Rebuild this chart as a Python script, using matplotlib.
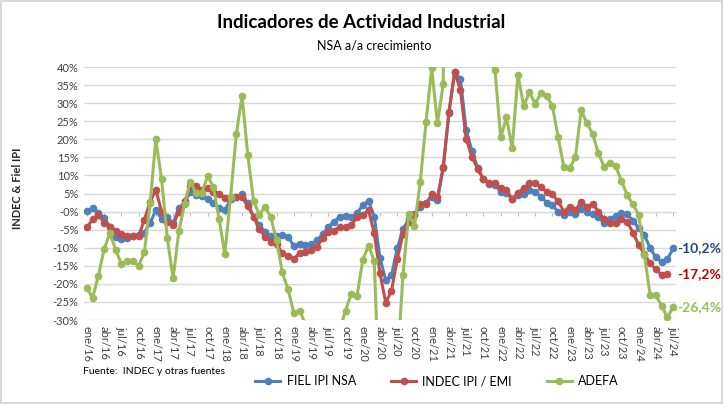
import numpy as np
import matplotlib
matplotlib.use("Agg")
import matplotlib.pyplot as plt
from matplotlib.ticker import FuncFormatter

plt.rcParams['font.family'] = ['Lato', 'DejaVu Sans']

# variacion interanual (%), ene/16 .. jul/24
fiel_ipi = [
    0.2, 0.9, -0.3, -1.7, -4.2, -6.9, -7.7, -7.2, -6.7, -6.5, -5.8, -3.2,
    0.4, -2.1, -1.6, -3.2, 0.9, 2.5, 5.5, 4.6, 4.3, 3.4, 2.3, 1.1,
    0.3, 3.4, 3.9, 4.8, 2.3, -1.4, -3.7, -5.6, -6.8, -6.7, -6.5, -7.0,
    -9.5, -8.9, -9.3, -8.9, -8.0, -6.3, -4.2, -2.8, -1.4, -1.1, -1.6, -0.5,
    1.8, 2.9, -1.4, -12.8, -19.0, -17.6, -10.2, -4.8, -2.1, -0.7, 1.3, 2.4,
    4.1, 3.2, 12.0, 27.4, 38.7, 36.6, 22.5, 16.8, 12.0, 9.0, 7.6, 7.3,
    5.5, 5.2, 3.4, 4.6, 5.0, 6.0, 5.5, 4.1, 2.5, 1.7, 0.0, -0.9,
    0.0, -0.8, 0.7, 0.0, -0.7, -1.6, -3.2, -2.1, -1.2, -0.3, -0.7, -2.5,
    -4.6, -6.5, -10.1, -12.7, -13.9, -13.2, -10.2,
]
indec_ipi = [
    -4.4, -2.1, -0.9, -3.1, -4.4, -5.3, -6.2, -6.7, -6.8, -6.8, -2.3, 2.7,
    6.0, 0.0, -2.8, -3.7, 0.0, 2.8, 7.0, 7.1, 6.0, 6.4, 5.5, 4.9,
    3.7, 3.9, 4.1, 4.1, 1.5, -1.4, -4.9, -6.9, -8.3, -9.0, -11.5, -12.3,
    -13.2, -11.4, -11.1, -10.6, -9.9, -7.4, -5.6, -5.3, -4.2, -4.4, -3.7, -1.6,
    -1.0, 0.4, -6.0, -17.1, -25.2, -21.9, -13.2, -6.2, -2.8, -0.9, 2.1, 2.1,
    4.8, 3.9, 12.4, 27.6, 38.7, 33.5, 20.0, 15.2, 11.7, 9.0, 8.0, 7.8,
    6.4, 6.0, 3.4, 5.2, 6.4, 7.8, 8.0, 6.7, 5.5, 4.8, 2.8, 0.0,
    1.4, 0.4, 2.7, 1.4, 2.1, 0.0, -2.1, -3.1, -3.2, -2.1, -2.8, -5.8,
    -9.2, -11.7, -14.3, -16.0, -17.5, -17.2,
]
adefa = [
    -21.2, -23.8, -17.8, -10.4, -6.0, -10.5, -14.5, -13.7, -13.7, -15.0, -11.3, 2.3,
    20.0, 8.9, -7.4, -18.5, -5.5, 2.1, 8.3, 5.1, 5.2, 9.8, 6.9, -2.0,
    -11.7, 3.9, 21.4, 32.0, 15.6, 3.0, -0.9, 1.4, -1.6, -7.9, -16.8, -21.5,
    -28.0, -27.4, -31.0, -38.0, -42.0, -36.0, -35.0, -38.0, -32.6, -27.4, -22.8, -23.4,
    -13.4, -9.4, -13.7, -57.0, -100.0, -84.0, -42.5, -17.5, -0.7, -3.9, 8.1, 24.7,
    39.6, 24.4, 35.3, 300.0, 900.0, 150.0, 80.0, 65.0, 58.0, 52.0, 42.0, 39.2,
    20.5, 26.1, 17.5, 37.9, 29.2, 33.0, 29.9, 32.7, 32.0, 29.2, 20.5, 12.2,
    12.1, 15.0, 28.1, 24.4, 21.5, 16.1, 12.4, 13.5, 12.6, 8.5, 4.6, 2.0,
    -0.9, -12.0, -23.1, -23.2, -26.1, -29.3, -26.4,
]

tick_labels = [
    "ene/16", "abr/16", "jul/16", "oct/16", "ene/17", "abr/17", "jul/17", "oct/17",
    "ene/18", "abr/18", "jul/18", "oct/18", "ene/19", "abr/19", "jul/19", "oct/19",
    "ene/20", "abr/20", "jul/20", "oct/20", "ene/21", "abr/21", "jul/21", "oct/21",
    "ene/22", "abr/22", "jul/22", "oct/22", "ene/23", "abr/23", "jul/23", "oct/23",
    "ene/24", "abr/24", "jul/24",
]

series = [
    ("FIEL IPI NSA", fiel_ipi, "#4f81bd", "-10,2%", "#1f497d"),
    ("INDEC IPI / EMI", indec_ipi, "#c0504d", "-17,2%", "#c00000"),
    ("ADEFA", adefa, "#9bbb59", "-26,4%", "#9bbb59"),
]

fig = plt.figure(figsize=(7.23, 4.04), dpi=100)
fig.patch.set_edgecolor("#d9d9d9")
fig.patch.set_linewidth(1.5)
ax = fig.add_axes([84 / 723, 1 - 320 / 404, 592 / 723, 253 / 404])

for nombre, valores, color, etiqueta, color_etq in series:
    x = np.arange(len(valores))
    y = np.array(valores) / 100
    ax.plot(x, y, color=color, lw=2.2, marker="o", ms=4.5, label=nombre)
    ax.text(102.75, y[-1], etiqueta, color=color_etq, fontsize=10, fontweight="bold",
            ha="left", va="center", clip_on=False)

ax.set_xlim(-0.5, 102.5)
ax.set_ylim(-0.30, 0.40)
ax.set_yticks(np.arange(-0.30, 0.401, 0.05))
ax.yaxis.set_major_formatter(FuncFormatter(lambda v, p: f"{v * 100:.0f}%"))
ax.grid(axis="y", color="#d9d9d9", lw=1)
ax.set_axisbelow(True)
for s in ax.spines.values():
    s.set_visible(False)
ax.tick_params(axis="y", length=0, labelsize=8, labelcolor="#404040", pad=4)

ax.set_xticks(np.arange(0, 103, 3))
ax.set_xticklabels(tick_labels, rotation=-90, fontsize=8, color="#404040")
ax.tick_params(axis="x", length=0, pad=4)

# eje horizontal en 0 con marcas cada trimestre
eje0 = ax.secondary_xaxis(30 / 70)
eje0.set_xticks(np.arange(0, 103, 3))
eje0.tick_params(axis="x", direction="out", length=3, color="#bfbfbf", labelbottom=False,
                 labeltop=False)
eje0.spines["bottom"].set_color("#d9d9d9")
eje0.spines["top"].set_visible(False)

fig.text(0.5, 1 - 22 / 404, "Indicadores de Actividad Industrial", ha="center", va="center",
         fontsize=13.5, fontweight="bold")
fig.text(374 / 723, 1 - 46 / 404, "NSA a/a crecimiento", ha="center", va="center", fontsize=9)
fig.text(18 / 723, 1 - 188 / 404, "INDEC & Fiel IPI", rotation=90, ha="center", va="center",
         fontsize=8, fontweight="bold", color="#262626")
fig.text(83 / 723, 1 - 372 / 404, "Fuente:  INDEC y otras fuentes", ha="left", va="center",
         fontsize=7.5)

fig.legend(loc="center", bbox_to_anchor=(437 / 723, 1 - 381 / 404), ncol=3, frameon=False,
           fontsize=9, handlelength=2.0, handletextpad=0.5, columnspacing=2.8)

fig.savefig("out.png", dpi=100, edgecolor=fig.get_edgecolor())
